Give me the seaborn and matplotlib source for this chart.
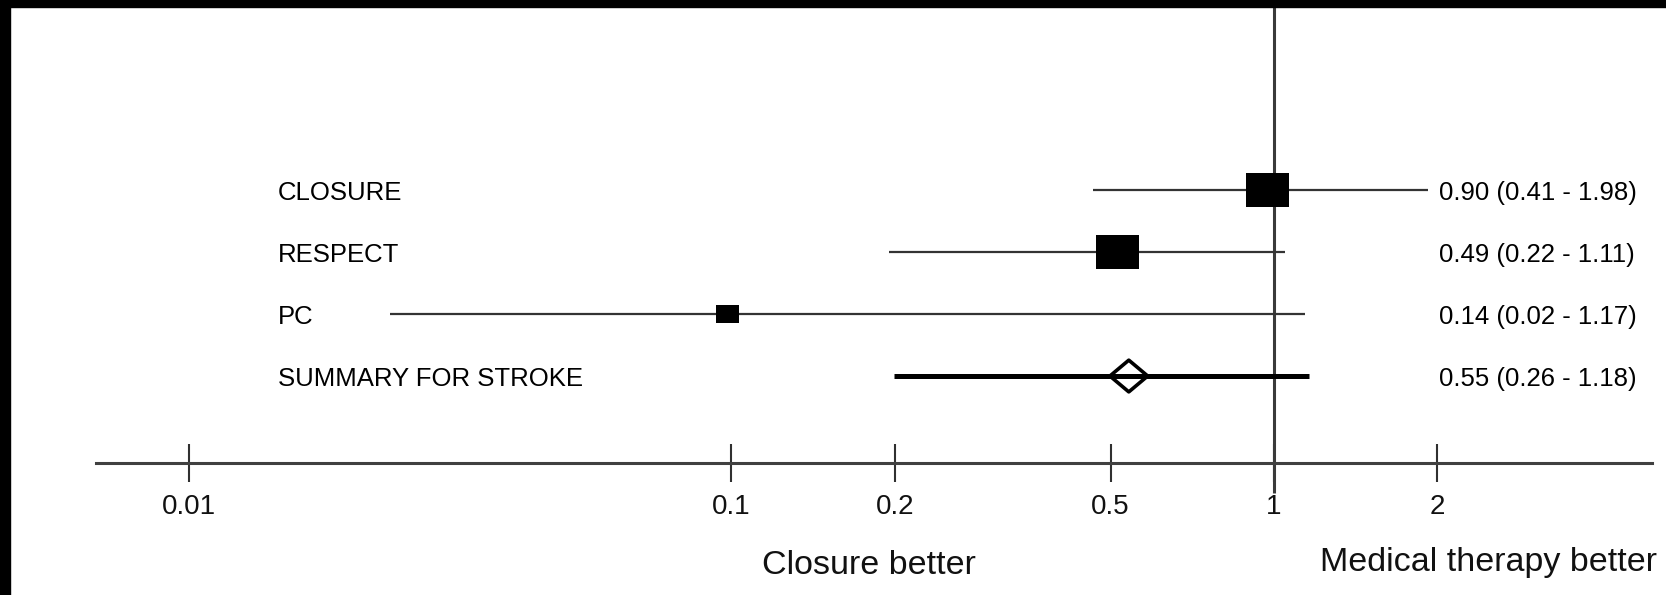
import numpy as np
import pandas as pd
import matplotlib
matplotlib.use("Agg")
import matplotlib.pyplot as plt
import matplotlib.transforms as mtransforms
from matplotlib.path import Path
from matplotlib.patches import Rectangle
import seaborn as sns

# --- Dados --- #
estudos = ["CLOSURE", "RESPECT", "PC", "SUMMARY FOR STROKE"]
estimativa = [0.971, 0.514, 0.0985, 0.540]
ic_inferior = [0.464, 0.195, 0.0235, 0.199]
ic_superior = [1.922, 1.048, 1.141, 1.160]
rotulos_ic = ["0.90 (0.41 - 1.98)", "0.49 (0.22 - 1.11)",
              "0.14 (0.02 - 1.17)", "0.55 (0.26 - 1.18)"]
ticks_x = [0.01, 0.1, 0.2, 0.5, 1, 2]
ticks_rotulos = ["0.01", "0.1", "0.2", "0.5", "1", "2"]

# --- Layout --- #
W, H = 1666, 595
DPI = 100
linha_eixo = 4.403  # posicao do eixo x em unidades de linha

sns.set_style("white")
plt.rcParams["font.family"] = ["Liberation Sans", "DejaVu Sans"]

fig = plt.figure(figsize=(W / DPI, H / DPI), dpi=DPI)
fig.patch.set_facecolor("white")
ax = fig.add_axes([96 / W, 0, (1652 - 96) / W, 1])
ax.set_xscale("log")
ax.set_xlim(0.00674, 4.975)
ax.set_ylim(6.532, -3.065)
ax.patch.set_alpha(0)

linhas = np.arange(len(estudos))
df = pd.DataFrame({"estudo": estudos, "est": estimativa, "lo": ic_inferior,
                   "hi": ic_superior, "linha": linhas})

# linha de referencia em 1
ax.vlines(1, -3.1, linha_eixo + 30 / 62, color="#3a3a3a", lw=2.2, zorder=1)

# intervalos de confianca
ax.hlines(df["linha"][:3], df["lo"][:3], df["hi"][:3], color="#333333", lw=1.6, zorder=2)
ax.hlines(df["linha"][3:], df["lo"][3:], df["hi"][3:], color="black", lw=3.6, zorder=2)

# marcadores: retangulos para estudos, losango para o resumo
ret = Path([(-1, -0.77), (1, -0.77), (1, 0.77), (-1, 0.77), (-1, -0.77)],
           [Path.MOVETO, Path.LINETO, Path.LINETO, Path.LINETO, Path.CLOSEPOLY])
losango = Path([(0, -0.84), (1, 0), (0, 0.84), (-1, 0), (0, -0.84)],
               [Path.MOVETO, Path.LINETO, Path.LINETO, Path.LINETO, Path.CLOSEPOLY])

d_est = df.iloc[:3]
sns.scatterplot(x=d_est["est"], y=d_est["linha"], marker=ret, s=[961, 961, 275],
                color="black", linewidth=0, ax=ax, zorder=3, legend=False)
d_sum = df.iloc[3:]
sns.scatterplot(x=d_sum["est"], y=d_sum["linha"], marker=losango, s=[740],
                facecolor="none", edgecolor="black", linewidth=2.6, ax=ax,
                zorder=3, legend=False)

# eixo x
for lado in ["left", "right", "top"]:
    ax.spines[lado].set_visible(False)
ax.spines["bottom"].set_position(("data", linha_eixo))
ax.spines["bottom"].set_color("#404040")
ax.spines["bottom"].set_linewidth(2.2)
ax.set_xticks(ticks_x)
ax.set_xticklabels(ticks_rotulos)
ax.minorticks_off()
ax.tick_params(axis="x", which="major", bottom=True, direction="inout", length=28,
               width=1.5, color="#303030", labelsize=20, pad=8, labelcolor="#111111")
ax.set_yticks([])
ax.set_xlabel("")
ax.set_ylabel("")

# textos das linhas
trans = mtransforms.blended_transform_factory(fig.transFigure, ax.transData)
for i, row in df.iterrows():
    ax.text(278 / W, row["linha"] + 0.05, row["estudo"], transform=trans, ha="left",
            va="center", fontsize=18.5, color="black")
    ax.text(1439 / W, row["linha"] + 0.05, rotulos_ic[i], transform=trans, ha="left",
            va="center", fontsize=18.5, color="black")

# rotulos de direcao
fig.text(869 / W, 1 - 565 / H, "Closure better", ha="center", va="center",
         fontsize=24.5, color="#111111")
fig.text(1489 / W, 1 - 562 / H, "Medical therapy better", ha="center", va="center",
         fontsize=24.5, color="#111111")

# bordas pretas da imagem original
fig.patches.append(Rectangle((0, 0), 10 / W, 1, transform=fig.transFigure,
                             color="black", zorder=10))
fig.patches.append(Rectangle((0, 1 - 7 / H), 1, 7 / H, transform=fig.transFigure,
                             color="black", zorder=10))

fig.savefig("out.png", dpi=DPI)
plt.close(fig)
